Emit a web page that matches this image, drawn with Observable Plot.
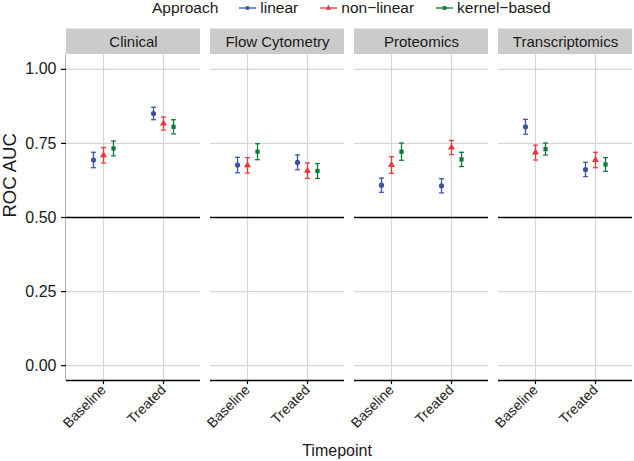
<!DOCTYPE html>
<html><head><meta charset="utf-8">
<script src="https://cdn.jsdelivr.net/npm/d3@7"></script>
<script src="https://cdn.jsdelivr.net/npm/@observablehq/plot@0.6"></script>
<style>
body{margin:0;background:#fff;font-family:"Liberation Sans",Arial,Helvetica,sans-serif;color:#1a1a1a;}
#wrap{position:relative;width:634px;height:461px;overflow:hidden;}
#legend{position:relative;height:28px;display:flex;align-items:center;padding-left:152px;font-size:15.5px;box-sizing:border-box;padding-bottom:12px;}
#legend .title{margin-right:21px;}
#legend .item{display:flex;align-items:center;margin-right:22px;}
#legend svg{margin-right:4px;}
#chart{height:405px;}
#caption{position:absolute;top:437px;left:237px;width:200px;text-align:center;font-size:16px;line-height:28px;}
</style></head><body>
<div id="wrap">
  <div id="legend"></div>
  <div id="chart"></div>
  <div id="caption">Timepoint</div>
</div>
<script>
// ---- data ----
const assays = ["Clinical", "Flow Cytometry", "Proteomics", "Transcriptomics"];
const timepoints = ["Baseline", "Treated"];
const approaches = ["linear", "non-linear", "kernel-based"];
const yTicks = [0, 0.25, 0.5, 0.75, 1.0];
const yTitle = "ROC AUC";
// order: Clinical B, Clinical T, Flow B, Flow T, Prot B, Prot T, Trans B, Trans T
const linearAUC    = [0.694, 0.851, 0.677, 0.686, 0.609, 0.607, 0.806, 0.662];
const linearErr    = [0.026, 0.021, 0.026, 0.025, 0.024, 0.024, 0.025, 0.024];
const nonlinearAUC = [0.710, 0.817, 0.676, 0.658, 0.677, 0.736, 0.719, 0.694];
const nonlinearErr = [0.026, 0.022, 0.026, 0.026, 0.028, 0.024, 0.025, 0.026];
const kernelAUC    = [0.733, 0.806, 0.722, 0.657, 0.722, 0.696, 0.731, 0.679];
const kernelErr    = [0.025, 0.024, 0.027, 0.025, 0.029, 0.024, 0.020, 0.023];

const colors = ["#3b53a4", "#e8363f", "#0f7a3c"];
const symbols = ["circle", "triangle", "square"];
const radii = [2.6, 2.6, 2.4];
const offsets = [-10, 0, 10];

const aucs = [linearAUC, nonlinearAUC, kernelAUC];
const errs = [linearErr, nonlinearErr, kernelErr];
const rows = [];
approaches.forEach((ap, k) => {
  assays.forEach((as, i) => {
    timepoints.forEach((tp, j) => {
      const idx = i * 2 + j;
      rows.push({approach: ap, assay: as, time: tp, auc: aucs[k][idx],
                 lo: aucs[k][idx] - errs[k][idx], hi: aucs[k][idx] + errs[k][idx]});
    });
  });
});

// horizontal-line symbol for error-bar caps
const capSymbol = {draw(ctx, size) { const w = Math.sqrt(size / Math.PI); ctx.moveTo(-w, 0); ctx.lineTo(w, 0); }};

const seriesMarks = [];
approaches.forEach((ap, k) => {
  const data = rows.filter(d => d.approach === ap);
  const common = {fx: "assay", x: "time", dx: offsets[k]};
  seriesMarks.push(
    Plot.ruleX(data, {...common, y1: "lo", y2: "hi", stroke: colors[k], strokeWidth: 1.3}),
    Plot.dot(data, {...common, y: "lo", symbol: capSymbol, r: 2.4, stroke: colors[k], strokeWidth: 1.3, fill: "none"}),
    Plot.dot(data, {...common, y: "hi", symbol: capSymbol, r: 2.4, stroke: colors[k], strokeWidth: 1.3, fill: "none"}),
    Plot.dot(data, {...common, y: "auc", symbol: symbols[k], r: radii[k], fill: colors[k], stroke: "none"})
  );
});

const W = 634, ML = 65, MR = 0, padIn = 0.066;
const step = (W - ML - MR) / (assays.length - padIn);
const facetW = step * (1 - padIn);

const chart = Plot.plot({
  width: W,
  height: 405,
  marginLeft: ML,
  marginRight: MR,
  marginTop: 26,
  marginBottom: 53,
  style: {fontFamily: "Liberation Sans, Arial, Helvetica, sans-serif", fontSize: "14px", color: "#1a1a1a"},
  fx: {domain: assays, axis: null, paddingInner: padIn, paddingOuter: 0},
  x: {type: "point", domain: timepoints, padding: 0.6},
  y: {domain: [-0.05, 1.05]},
  marks: [
    // facet strips
    Plot.rect(assays, {fx: d => d, y1: 1.05, y2: 1.136, fill: "#cbcbcb"}),
    Plot.text(assays, {fx: d => d, y: 1.093, text: d => d, fontSize: 15, fill: "#1a1a1a"}),
    // grid
    Plot.ruleY(yTicks, {stroke: "#d6d6d6", strokeWidth: 1.2}),
    Plot.ruleX(timepoints, {stroke: "#d6d6d6", strokeWidth: 1.2}),
    // reference line
    Plot.ruleY([0.5], {stroke: "#000", strokeWidth: 1.3}),
    ...seriesMarks,
    // axis lines
    Plot.ruleY([-0.05], {stroke: "#000", strokeWidth: 1.4}),
    Plot.rect([assays[0]], {fx: d => d, y1: -0.05, y2: 1.05, fill: "#000", insetLeft: -0.7, insetRight: facetW - 0.7}),
    Plot.axisY({ticks: yTicks, tickFormat: d3.format(".2f"), tickSize: 5, tickPadding: 5,
                fontSize: 16, label: null, stroke: "#000", strokeWidth: 1.2}),
    Plot.axisX({tickRotate: -45, tickSize: 4, tickPadding: 3, fontSize: 14, label: null, stroke: "#000", strokeWidth: 1.2}),
    // y title
    Plot.text([yTitle], {fx: () => assays[0], frameAnchor: "left", text: d => d, rotate: -90, dx: -56, fontSize: 18.5, fill: "#1a1a1a"})
  ]
});
document.getElementById("chart").appendChild(chart);

// ---- legend ----
const legend = d3.select("#legend");
legend.append("span").attr("class", "title").text("Approach");
approaches.forEach((ap, k) => {
  const item = legend.append("span").attr("class", "item");
  const s = item.append("svg").attr("width", 17).attr("height", 10);
  s.append("line").attr("x1", 0).attr("x2", 17).attr("y1", 5).attr("y2", 5)
    .attr("stroke", colors[k]).attr("stroke-width", 1.3);
  const sym = [d3.symbolCircle, d3.symbolTriangle, d3.symbolSquare][k];
  s.append("path").attr("transform", "translate(8.5,5)")
    .attr("d", d3.symbol(sym, 14)()).attr("fill", colors[k]);
  item.append("span").text(ap.replace("-", "\u2212"));
});
</script>
</body></html>
